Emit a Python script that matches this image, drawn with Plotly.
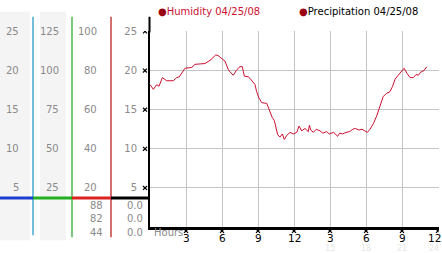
import plotly.graph_objects as go

W, H = 442, 253
FONT = "DejaVu Sans"

# ---- data ----
hours = [0.00, 0.28, 0.56, 0.75, 1.03, 1.39, 1.94, 2.23, 2.44, 2.92, 3.48, 3.75, 4.58, 4.86,
         5.08, 5.48, 5.69, 6.25, 6.53, 6.75, 6.94, 7.23, 7.50, 7.69, 7.86, 8.19, 8.33, 8.75,
         8.89, 9.08, 9.31, 9.73, 9.86, 10.00, 10.19, 10.36, 10.48, 10.64, 10.83, 11.03, 11.19,
         11.39, 11.67, 11.94, 12.23, 12.42, 12.64, 12.92, 13.19, 13.28, 13.40, 13.61, 13.86,
         14.17, 14.40, 14.72, 14.94, 15.30, 15.64, 15.80, 16.06, 16.33, 16.64, 16.90, 17.11,
         17.40, 17.67, 17.94, 18.11, 18.33, 18.61, 18.89, 19.17, 19.44, 19.73, 20.00, 20.22,
         20.42, 20.69, 20.89, 21.17, 21.44, 21.67, 21.94, 22.17, 22.36, 22.56, 22.83, 23.06]
humidity = [18.2, 17.6, 18.2, 18.0, 19.1, 18.7, 18.7, 19.1, 19.2, 20.3, 20.4, 20.8, 20.9, 21.2,
            21.4, 22.0, 21.9, 21.2, 20.1, 19.7, 19.4, 20.1, 20.5, 20.5, 19.3, 19.2, 19.0, 18.2,
            17.3, 16.5, 15.9, 15.8, 15.3, 14.6, 14.0, 13.6, 12.8, 11.8, 11.5, 11.9, 11.2,
            11.7, 12.1, 11.9, 12.1, 12.9, 12.3, 12.6, 12.2, 13.0, 12.4, 12.1, 12.5,
            12.3, 12.0, 12.2, 11.9, 12.1, 11.6, 12.0, 11.9, 12.1, 12.2, 12.5, 12.6,
            12.4, 12.5, 12.3, 12.1, 12.5, 13.2, 14.2, 15.5, 16.7, 17.1, 17.3, 18.0,
            18.9, 19.4, 19.8, 20.3, 19.6, 19.1, 19.1, 19.5, 19.4, 19.8, 20.0, 20.5]

x_tickvals = [3, 6, 9, 12, 15, 18, 21, 24]
x_ticktext = ["3", "6", "9", "12", "3", "6", "9", "12"]
x_faint_text = ["15", "18", "21", "24"]
x_faint_vals = [15, 18, 21, 24]
y_tickvals = [5, 10, 15, 20, 25]
left_axis1 = [5, 10, 15, 20, 25]
left_axis2 = [25, 50, 75, 100, 125]
left_axis3 = [20, 40, 60, 80, 100]
below_col1 = ["88", "82", "44"]
below_col2 = ["0.0", "0.0", "0.0"]
legend_items = ["Humidity 04/25/08", "Precipitation 04/25/08"]


def px(x):
    return x / W


def py(y):
    return (H - y) / H


# y axis: value 0 at pixel 226.5, value 25 at pixel 27
y0_pix, y25_pix = 226.5, 27.0
ppu = (y0_pix - y25_pix) / 25.0
ytop = 25.05
dom_y = [py(y0_pix), py(y0_pix - ytop * ppu)]
ppx = 12.0  # pixels per hour

fig = go.Figure()
fig.add_trace(go.Scatter(x=hours, y=humidity, mode="lines",
                         line=dict(color="#cc1030", width=1), showlegend=False,
                         hoverinfo="skip"))

shapes = []
for a, b in [(0, 30), (40, 66)]:
    shapes.append(dict(type="rect", xref="paper", yref="paper", x0=px(a), x1=px(b),
                       y0=py(240), y1=py(7), fillcolor="#f4f4f4", line=dict(width=0),
                       layer="below"))
for xx, col, yb in [(33, "#2a9ccc", 235), (72, "#33aa33", 237), (111, "#bb2222", 237)]:
    shapes.append(dict(type="line", xref="paper", yref="paper", x0=px(xx), x1=px(xx),
                       y0=py(yb), y1=py(12), line=dict(color=col, width=1.3)))
for a, b, col in [(0, 33, "#1a3fd0"), (33, 72, "#22b022"), (72, 111, "#dd2222"), (111, 150, "#000000")]:
    shapes.append(dict(type="line", xref="paper", yref="paper", x0=px(a), x1=px(b),
                       y0=py(197), y1=py(197), line=dict(color=col, width=3)))
shapes.append(dict(type="line", xref="paper", yref="paper", x0=px(149.5), x1=px(149.5),
                   y0=py(28), y1=py(12), line=dict(color="black", width=2)))

# small cross glyphs beside the axes' ticks
gl = dict(color="black", width=1.2)
hx, hy = 2.0, 2.0
for v in y_tickvals:
    for s in (1, -1):
        shapes.append(dict(type="line", xref="paper", yref="y",
                           x0=px(145 - hx), x1=px(145 + hx),
                           y0=v - s * hy / ppu, y1=v + s * hy / ppu, line=gl))
for v in x_tickvals:
    for s in (1, -1):
        shapes.append(dict(type="line", xref="x", yref="paper",
                           x0=v - hx / ppx, x1=v + hx / ppx,
                           y0=py(230.5 - s * hy), y1=py(230.5 + s * hy), line=gl))

ann = []
gray = "#8a8a8a"
for vals, xr in [(left_axis1, 20.5), (left_axis2, 60.5), (left_axis3, 99)]:
    for i, v in enumerate(vals):
        ann.append(dict(x=px(xr), xref="paper", y=y_tickvals[i], yref="y", text=str(v),
                        showarrow=False, xanchor="right", yanchor="middle",
                        font=dict(family=FONT, size=10, color=gray)))
for i, (a, b) in enumerate(zip(below_col1, below_col2)):
    yy = [204.3, 218.3, 232.3][i]
    ann.append(dict(x=px(104.5), xref="paper", y=py(yy), yref="paper", text=a, showarrow=False,
                    xanchor="right", yanchor="middle", font=dict(family=FONT, size=10, color=gray)))
    ann.append(dict(x=px(144.5), xref="paper", y=py(yy), yref="paper", text=b, showarrow=False,
                    xanchor="right", yanchor="middle", font=dict(family=FONT, size=10, color=gray)))
for i, (v, t) in enumerate(zip(x_tickvals, x_ticktext)):
    ann.append(dict(x=v, xref="x", y=py(237.5), yref="paper", text=t, showarrow=False,
                    xanchor="center", yanchor="middle", xshift=-4 if i == len(x_tickvals) - 1 else 0,
                    font=dict(family=FONT, size=10.5, color="black")))
for i, (v, t) in enumerate(zip(x_faint_vals, x_faint_text)):
    ann.append(dict(x=v, xref="x", y=py(248.5), yref="paper", text=t, showarrow=False,
                    xanchor="center", yanchor="middle", xshift=-4 if i == len(x_faint_vals) - 1 else 0,
                    font=dict(family=FONT, size=8, color="#e6e6e6")))
ann.append(dict(x=px(152), xref="paper", y=py(232), yref="paper", text="Hours", showarrow=False,
                xanchor="left", yanchor="middle", font=dict(family=FONT, size=10, color=gray)))
ann.append(dict(x=px(156), xref="paper", y=py(7), yref="paper",
                text="<span style='color:#990010'>●</span><span style='color:#cc1030'>" + legend_items[0] + "</span>",
                showarrow=False, xanchor="left", yanchor="middle", font=dict(family=FONT, size=10)))
ann.append(dict(x=px(297), xref="paper", y=py(7), yref="paper",
                text="<span style='color:#990010'>●</span><span style='color:#000000'>" + legend_items[1] + "</span>",
                showarrow=False, xanchor="left", yanchor="middle", font=dict(family=FONT, size=10)))

fig.update_layout(
    width=W, height=H, margin=dict(l=0, r=0, t=0, b=0),
    paper_bgcolor="white", plot_bgcolor="white", showlegend=False,
    shapes=shapes, annotations=ann,
    xaxis=dict(domain=[px(150), px(438.6)], range=[0, 24.05], tickvals=x_tickvals,
               showticklabels=False, showgrid=True, gridcolor="#c4c4c4", gridwidth=1,
               showline=True, linecolor="black", linewidth=3, zeroline=False,
               ticks="", fixedrange=True),
    yaxis=dict(domain=dom_y, range=[0, ytop], tickvals=y_tickvals, showgrid=True,
               gridcolor="#c4c4c4", gridwidth=1, showline=True, linecolor="black",
               linewidth=2, zeroline=False, ticks="outside", ticklen=9,
               tickcolor="rgba(0,0,0,0)", tickfont=dict(family=FONT, size=10, color=gray),
               fixedrange=True),
)

fig.write_html("out.html")
